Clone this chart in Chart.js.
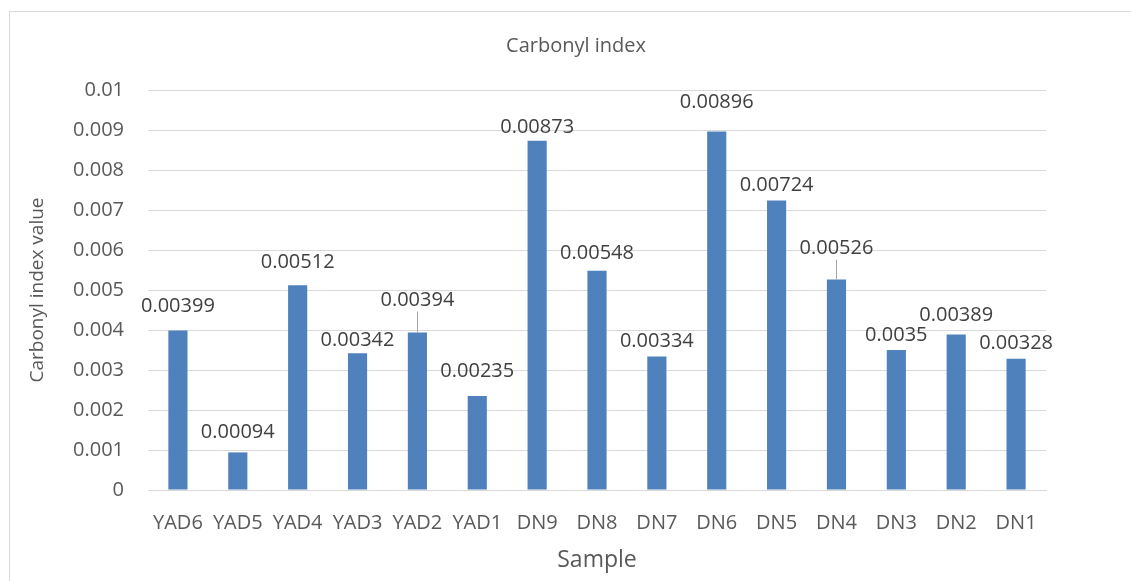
<!DOCTYPE html>
<html>
<head>
<meta charset="utf-8">
<script src="https://cdn.jsdelivr.net/npm/chart.js@4.4.1/dist/chart.umd.min.js"></script>
<style>
  html, body { margin: 0; padding: 0; background: #fff; overflow: hidden; }
  #wrap { position: relative; width: 1131px; height: 581px; }
  #frame { position: absolute; left: 9px; top: 11px; width: 1140px; height: 600px; border: 1px solid #d9d9d9; }
  canvas { position: absolute; left: 0; top: 0; }
</style>
</head>
<body>
<div id="wrap">
  <div id="frame"></div>
  <canvas id="chart" width="1131" height="581"></canvas>
</div>
<script>
// ── Data ─────────────────────────────────────────────
const samples = ["YAD6", "YAD5", "YAD4", "YAD3", "YAD2", "YAD1", "DN9", "DN8", "DN7", "DN6", "DN5", "DN4", "DN3", "DN2", "DN1"];
const carbonyl = [0.00399, 0.00094, 0.00512, 0.00342, 0.00394, 0.00235, 0.00873, 0.00548, 0.00334, 0.00896, 0.00724, 0.00526, 0.0035, 0.00389, 0.00328];
const yTicks = [0, 0.001, 0.002, 0.003, 0.004, 0.005, 0.006, 0.007, 0.008, 0.009, 0.01];
const chartTitle = "Carbonyl index";

// label placement (px above bar top), leader lines where Excel moved the label
const labelLift = [24, 20, 23, 13, 32, 25, 14, 18, 15, 29, 15, 31, 15, 19, 16];
const leader    = [false, false, false, false, true, false, false, false, false, false, false, true, false, false, false];

const FONT = "'Open Sans', 'Liberation Sans', sans-serif";

// ── Title (Excel centres it on the chart frame, not the canvas) ──
const frameTitle = {
  id: "frameTitle",
  afterDraw(chart) {
    const ctx = chart.ctx;
    ctx.save();
    ctx.font = "20px " + FONT;
    ctx.fillStyle = "#595959";
    ctx.textAlign = "center";
    ctx.textBaseline = "middle";
    ctx.fillText(chartTitle, 576, 46);
    ctx.restore();
  }
};

// ── Data labels ──────────────────────────────────────
const dataLabels = {
  id: "dataLabels",
  afterDatasetsDraw(chart) {
    const ctx = chart.ctx;
    const meta = chart.getDatasetMeta(0);
    ctx.save();
    ctx.font = "20px " + FONT;
    ctx.fillStyle = "#404040";
    ctx.textAlign = "center";
    ctx.textBaseline = "middle";
    meta.data.forEach((bar, i) => {
      const y = bar.y - labelLift[i];
      ctx.fillText(String(carbonyl[i]), bar.x, y);
      if (leader[i]) {
        ctx.strokeStyle = "#a6a6a6";
        ctx.lineWidth = 1;
        ctx.beginPath();
        ctx.moveTo(Math.round(bar.x) + 0.5, y + 11);
        ctx.lineTo(Math.round(bar.x) + 0.5, bar.y);
        ctx.stroke();
      }
    });
    ctx.restore();
  }
};

new Chart(document.getElementById("chart"), {
  type: "bar",
  data: {
    labels: samples,
    datasets: [{
      label: chartTitle,
      data: carbonyl,
      backgroundColor: "#4f81bd",
      borderWidth: 0,
      categoryPercentage: 1,
      barPercentage: 0.32
    }]
  },
  options: {
    responsive: false,
    animation: false,
    layout: { padding: { left: 0, right: 85, top: 90, bottom: 0 } },
    plugins: {
      legend: { display: false },
      tooltip: { enabled: false },
      title: { display: false }
    },
    scales: {
      x: {
        grid: { display: false, drawTicks: false },
        border: { display: true, color: "#d9d9d9" },
        ticks: { color: "#595959", font: { family: FONT, size: 20 }, padding: 21, maxRotation: 0, autoSkip: false },
        title: { display: true, text: "Sample", color: "#595959", font: { family: FONT, size: 23 }, padding: { top: 0, bottom: 7 } },
        afterFit(scale) { scale.height = 91; }
      },
      y: {
        min: 0,
        max: 0.01,
        afterBuildTicks(scale) { scale.ticks = yTicks.map(v => ({ value: v })); },
        grid: { color: "#d9d9d9", drawTicks: false },
        border: { display: false },
        ticks: {
          color: "#595959",
          font: { family: FONT, size: 20 },
          padding: 24,
          callback: v => String(yTicks.find(t => Math.abs(t - v) < 1e-9) ?? v)
        },
        title: { display: true, text: "Carbonyl index value", color: "#595959", font: { family: FONT, size: 19 }, padding: { top: 26, bottom: 0 } },
        afterFit(scale) { scale.width = 148; }
      }
    }
  },
  plugins: [dataLabels, frameTitle]
});
</script>
</body>
</html>
